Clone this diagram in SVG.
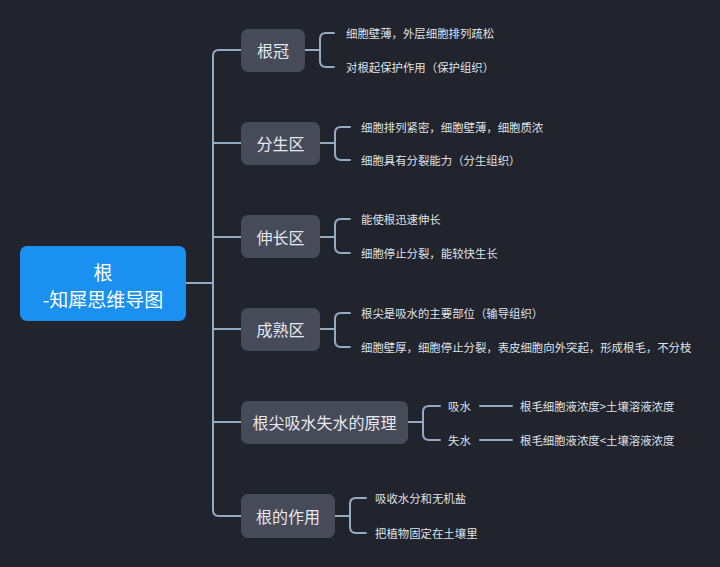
<svg xmlns="http://www.w3.org/2000/svg" width="720" height="567" viewBox="0 0 720 567">
<style>
text{font-family:"Noto Sans CJK SC","Noto Sans",sans-serif;}
.c{fill:none;stroke:#94abc6;stroke-width:2;stroke-linecap:round;stroke-linejoin:round}
.b{fill:#474b59}
.bt{fill:#e6e8ee;font-size:16px;text-anchor:middle;dominant-baseline:central}
.lt{fill:#dfe2e8;font-size:11.4px;dominant-baseline:central}
</style>
<rect width="720" height="567" fill="#21232d"/>
<g id="connectors" class="c">
<path d="M186,283 H213"/>
<path d="M241,50 H219 Q213,50 213,56 V510 Q213,516 219,516 H241"/>
<path d="M213,143 H241 M213,237 H241 M213,329 H241 M213,422 H241"/>
<path d="M305,50 H320 M334,33 H326 Q320,33 320,39 V61 Q320,67 326,67 H334"/>
<path d="M320,143 H335 M350,127 H341 Q335,127 335,133 V154 Q335,160 341,160 H350"/>
<path d="M320,237 H335 M350,219 H341 Q335,219 335,225 V247 Q335,253 341,253 H350"/>
<path d="M320,329 H335 M350,313 H341 Q335,313 335,319 V341 Q335,347 341,347 H350"/>
<path d="M408,422 H423 M440,406 H429 Q423,406 423,412 V434 Q423,440 429,440 H440"/>
<path d="M480,406 H512 M480,440 H512"/>
<path d="M335,516 H350 M366,498 H356 Q350,498 350,504 V527 Q350,533 356,533 H366"/>
</g>
<g id="root"><rect x="20" y="246" width="166" height="75" rx="7" fill="#1a91f0"/>
<text x="103" y="271" fill="#fff" font-size="19" text-anchor="middle" dominant-baseline="central">根</text>
<text x="103" y="298" fill="#fff" font-size="19" text-anchor="middle" dominant-baseline="central">-知犀思维导图</text></g>
<g id="n1"><rect class="b" x="241" y="29" width="64" height="43" rx="7"/><text class="bt" x="273" y="50">根冠</text>
<text class="lt" x="346" y="33">细胞壁薄，外层细胞排列疏松</text><text class="lt" x="346" y="67">对根起保护作用（保护组织）</text></g>
<g id="n2"><rect class="b" x="241" y="122" width="79" height="43" rx="7"/><text class="bt" x="280.5" y="143">分生区</text>
<text class="lt" x="361" y="127">细胞排列紧密，细胞壁薄，细胞质浓</text><text class="lt" x="361" y="160">细胞具有分裂能力（分生组织）</text></g>
<g id="n3"><rect class="b" x="241" y="215" width="79" height="43" rx="7"/><text class="bt" x="280.5" y="237">伸长区</text>
<text class="lt" x="361" y="219">能使根迅速伸长</text><text class="lt" x="361" y="253">细胞停止分裂，能较快生长</text></g>
<g id="n4"><rect class="b" x="241" y="308" width="79" height="43" rx="7"/><text class="bt" x="280.5" y="329">成熟区</text>
<text class="lt" x="361" y="313">根尖是吸水的主要部位（输导组织）</text><text class="lt" x="361" y="347">细胞壁厚，细胞停止分裂，表皮细胞向外突起，形成根毛，不分枝</text></g>
<g id="n5"><rect class="b" x="241" y="401" width="167" height="43" rx="7"/><text class="bt" x="324.5" y="422">根尖吸水失水的原理</text>
<text class="lt" x="448" y="406">吸水</text><text class="lt" x="448" y="440">失水</text>
<text class="lt" x="520" y="406">根毛细胞液浓度&gt;土壤溶液浓度</text><text class="lt" x="520" y="440">根毛细胞液浓度&lt;土壤溶液浓度</text></g>
<g id="n6"><rect class="b" x="241" y="494" width="94" height="44" rx="7"/><text class="bt" x="288" y="516">根的作用</text>
<text class="lt" x="375" y="498">吸收水分和无机盐</text><text class="lt" x="375" y="533">把植物固定在土壤里</text></g>
</svg>
